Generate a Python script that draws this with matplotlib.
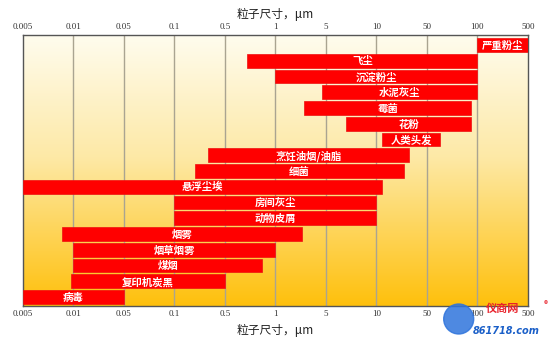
import numpy as np
import matplotlib.pyplot as plt
from matplotlib.colors import LinearSegmentedColormap
from matplotlib.patches import Ellipse

plt.rcParams['font.family'] = ['Noto Sans CJK SC', 'DejaVu Sans']

# 粒子尺寸刻度（等间距显示）
tick_vals = [0.005, 0.01, 0.05, 0.1, 0.5, 1, 5, 10, 50, 100, 500]
tick_labels = ['0.005', '0.01', '0.05', '0.1', '0.5', '1', '5', '10', '50', '100', '500']

# 各类颗粒物的尺寸范围 (μm)
names = ['严重粉尘', '飞尘', '沉淀粉尘', '水泥灰尘', '霉菌', '花粉', '人类头发',
         '烹饪油烟/油脂', '细菌', '悬浮尘埃', '房间灰尘', '动物皮屑', '烟雾',
         '烟草烟雾', '煤烟', '复印机炭黑', '病毒']
size_min = [100, 0.68, 1, 4.4, 2.5, 6.6, 12, 0.29, 0.19, 0.005, 0.1, 0.1,
            0.0086, 0.01, 0.01, 0.0097, 0.005]
size_max = [500, 100, 100, 100, 92, 92, 60, 28, 24, 12, 10, 10, 2.3, 1.0,
            0.83, 0.5, 0.05]

log_t = np.log10(tick_vals)
idx_t = np.arange(len(tick_vals), dtype=float)


def forward(x):
    x = np.clip(np.asarray(x, dtype=float), 1e-6, None)
    return np.interp(np.log10(x), log_t, idx_t)


def inverse(i):
    return 10 ** np.interp(np.asarray(i, dtype=float), idx_t, log_t)


fig = plt.figure(figsize=(5.5, 3.39), dpi=100)
ax = fig.add_axes([0.0418, 0.0973, 0.918, 0.7994])
ax.set_xscale('function', functions=(forward, inverse))
ax.set_xlim(0.005, 500)
ax.set_ylim(16.57, -0.635)

# 渐变背景：上浅下深
cmap = LinearSegmentedColormap.from_list(
    'bg', [(0, '#FFFCEE'), (0.45, '#FDE9A6'), (1, '#FFC00C')])
grad = np.linspace(0, 1, 256).reshape(-1, 1)
ax.imshow(grad, cmap=cmap, aspect='auto', extent=[0, 1, 0, 1],
          origin='upper', transform=ax.transAxes, zorder=0)

for v in tick_vals[1:-1]:
    ax.axvline(v, color='#aaa491', lw=1, zorder=1)

rows = np.arange(len(names))
widths = [b - a for a, b in zip(size_min, size_max)]
ax.barh(rows, widths, left=size_min, height=0.88, color='#FF0000',
        edgecolor='#ee1010', lw=0.5, zorder=3)

for r, name, a, b in zip(rows, names, size_min, size_max):
    cx = inverse((forward(a) + forward(b)) / 2)
    ax.text(cx, r + 0.04, name, color='white', fontsize=7.5, fontweight='bold',
            ha='center', va='center', zorder=4)

ax.set_xticks(tick_vals)
ax.set_xticklabels(tick_labels, family=['Liberation Serif'])
ax.xaxis.set_minor_locator(plt.NullLocator())
ax.tick_params(axis='x', which='both', length=0, top=True, labeltop=True,
               labelsize=6.5, pad=3, colors='#333333')
ax.set_yticks([])

for s in ax.spines.values():
    s.set_color('#555555')
    s.set_linewidth(1)

fig.text(0.5, 0.958, '粒子尺寸，μm', ha='center', va='center', fontsize=8.5,
         color='#222222')
fig.text(0.5, 0.024, '粒子尺寸，μm', ha='center', va='center', fontsize=8.5,
         color='#222222')

# 水印
fig.patches.append(Ellipse((0.834, 0.059), 30 / 550, 30 / 339,
                           transform=fig.transFigure, color='#2f74dc',
                           alpha=0.85, zorder=5))
fig.text(0.9136, 0.09, '仪商网', ha='center', va='center', fontsize=8,
         fontweight='bold', color='#e8202a', zorder=6)
fig.text(0.996, 0.1, '®', ha='right', va='center', fontsize=6,
         color='#e8202a')
fig.text(0.982, 0.024, '861718.com', ha='right', va='center', fontsize=7,
         fontstyle='italic', fontweight='bold', color='#1a5fc8',
         family=['DejaVu Sans'], zorder=6)

fig.savefig('out.png', dpi=100)
